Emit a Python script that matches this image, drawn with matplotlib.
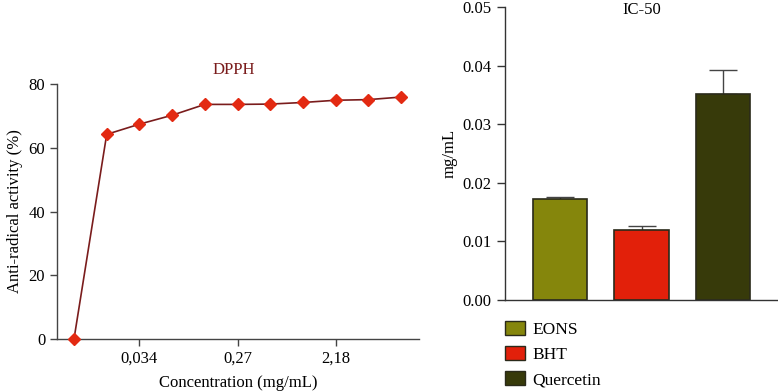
import matplotlib.pyplot as plt
from matplotlib.patches import Patch

plt.rcParams['font.family'] = ['Liberation Serif', 'DejaVu Serif']

# DPPH data (concentration steps, index positions on x)
conc_ticks = ["0,034", "0,27", "2,18"]
conc_tick_idx = [2, 5, 8]
activity = [0.0, 64.2, 67.4, 70.2, 73.6, 73.6, 73.7, 74.2, 74.9, 75.1, 75.9]

# IC-50 data
samples = ["EONS", "BHT", "Quercetin"]
ic50 = [0.0173, 0.0119, 0.0351]
ic50_err = [0.0002, 0.0007, 0.0042]
bar_colors = ["#85860c", "#e2200a", "#373a0a"]

fs = 12

fig = plt.figure(figsize=(7.78, 3.92), dpi=100)

# left: DPPH curve
ax1 = fig.add_axes([57 / 778, 53 / 392, 362 / 778, 255 / 392])
x = list(range(len(activity)))
ax1.plot(x, activity, color="#7a1c1c", lw=1.2, marker="D", markersize=6.5,
         markerfacecolor="#e32a12", markeredgecolor="#e32a12", clip_on=False, zorder=3)
ax1.set_xlim(-0.52, 10.55)
ax1.set_ylim(0, 80)
ax1.set_yticks([0, 20, 40, 60, 80])
ax1.set_xticks(conc_tick_idx)
ax1.set_xticklabels(conc_ticks)
ax1.spines["top"].set_visible(False)
ax1.spines["right"].set_visible(False)
for s in ("left", "bottom"):
    ax1.spines[s].set_color("#444444")
    ax1.spines[s].set_linewidth(1.0)
ax1.tick_params(direction="out", length=5, width=1.0, color="#444444", labelsize=fs)
ax1.set_xlabel("Concentration (mg/mL)", fontsize=fs, labelpad=6)
ax1.set_ylabel("Anti-radical activity (%)", fontsize=fs, labelpad=4)
ax1.text(0.487, 1.055, "DPPH", transform=ax1.transAxes, ha="center", va="center",
         color="#7a1c1c", fontsize=fs)

# right: IC-50 bars
ax2 = fig.add_axes([505 / 778, 92 / 392, 273 / 778, 293 / 392])
xb = list(range(len(samples)))
ax2.bar(xb, ic50, width=0.67, color=bar_colors, edgecolor="#2a2a1a", linewidth=1.2, zorder=2)
ax2.errorbar(xb, ic50, yerr=[[0] * 3, ic50_err], fmt="none", ecolor="#444444",
             elinewidth=1.0, capsize=10, capthick=1.0, zorder=1)
ax2.set_xlim(-0.675, 2.675)
ax2.set_ylim(0, 0.05)
ax2.set_yticks([0, 0.01, 0.02, 0.03, 0.04, 0.05])
ax2.set_yticklabels(["0.00", "0.01", "0.02", "0.03", "0.04", "0.05"])
ax2.set_xticks([])
ax2.spines["top"].set_visible(False)
ax2.spines["right"].set_visible(False)
for s in ("left", "bottom"):
    ax2.spines[s].set_color("#333333")
    ax2.spines[s].set_linewidth(1.0)
ax2.tick_params(axis="y", direction="out", length=6, width=1.0, color="#333333", labelsize=fs)
ax2.set_ylabel("mg/mL", fontsize=fs, labelpad=4)
ax2.text(0.5, 0.99, "IC-50", transform=ax2.transAxes, ha="center", va="center", fontsize=fs)

handles = [Patch(facecolor=c, edgecolor="#2a2a1a", linewidth=1.0) for c in bar_colors]
fig.legend(handles, samples, loc="upper left", bbox_to_anchor=(498 / 778, 1 - 314 / 392),
           frameon=False, fontsize=12.5, handlelength=1.15, handleheight=0.85,
           labelspacing=0.48, handletextpad=0.45, borderaxespad=0)

fig.savefig("out.png", dpi=100)
